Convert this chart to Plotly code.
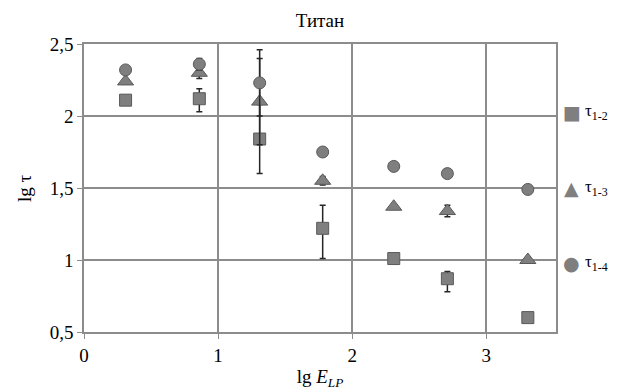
import plotly.graph_objects as go

x_vals = [0.31, 0.86, 1.31, 1.78, 2.31, 2.71, 3.31]

tau12 = [2.11, 2.12, 1.84, 1.22, 1.01, 0.87, 0.60]
tau12_err_plus = [0, 0.07, 0.24, 0.16, 0, 0.05, 0]
tau12_err_minus = [0, 0.09, 0.24, 0.21, 0, 0.09, 0]

tau13 = [2.24, 2.30, 2.10, 1.55, 1.37, 1.34, 1.00]
tau13_err = [0, 0.04, 0.30, 0.03, 0, 0.04, 0]

tau14 = [2.32, 2.36, 2.23, 1.75, 1.65, 1.60, 1.49]
tau14_err = [0, 0.04, 0.23, 0, 0, 0, 0]

series_names = ["τ<sub>1-2</sub>", "τ<sub>1-3</sub>", "τ<sub>1-4</sub>"]
legend_glyphs = ["■", "▲", "●"]

y_ticks = [0.5, 1, 1.5, 2, 2.5]
y_ticktext = ["0,5", "1", "1,5", "2", "2,5"]
x_ticks = [0, 1, 2, 3]
x_ticktext = ["0", "1", "2", "3"]

FILL = "#7f7f7f"
EDGE = "#595959"
GRID = "#8c8c8c"
FONT = "Liberation Serif, Times New Roman, serif"
FS = 19

fig = go.Figure()

def add(name, y, ep, em, symbol, size):
    fig.add_trace(go.Scatter(
        x=x_vals, y=y, mode="markers", name=name,
        marker=dict(symbol=symbol, size=size, color=FILL,
                    line=dict(color=EDGE, width=1)),
        error_y=dict(type="data", array=ep, arrayminus=em, symmetric=False,
                     color="#262626", thickness=1.5, width=3),
    ))

add(series_names[0], tau12, tau12_err_plus, tau12_err_minus, "square", 12)
add(series_names[1], tau13, tau13_err, tau13_err, "triangle-up", 14)
add(series_names[2], tau14, tau14_err, tau14_err, "circle", 12)

# legend drawn as annotations beside the plot area
legend_y = [0.764, 0.50, 0.2396]
annotations = []
for name, glyph, ly in zip(series_names, legend_glyphs, legend_y):
    annotations.append(dict(xref="paper", yref="paper", x=1.033, y=ly,
                            text=glyph, showarrow=False, xanchor="center",
                            yanchor="middle",
                            font=dict(family="DejaVu Sans", size=19, color=FILL)))
    annotations.append(dict(xref="paper", yref="paper", x=1.058, y=ly,
                            text=name, showarrow=False, xanchor="left",
                            yanchor="middle",
                            font=dict(family=FONT, size=17, color="black")))

# y-axis title
annotations.append(dict(xref="paper", yref="paper", x=-0.127, y=0.5,
                        text="lg τ", showarrow=False, textangle=-90,
                        xanchor="center", yanchor="middle",
                        font=dict(family=FONT, size=FS, color="black")))

fig.update_layout(
    width=617, height=390,
    margin=dict(l=76, r=69, t=36, b=66),
    paper_bgcolor="white", plot_bgcolor="white",
    font=dict(family=FONT, size=FS, color="black"),
    title=dict(text="Титан", x=0.5, xanchor="center", y=0.969, yanchor="middle",
               xref="paper", font=dict(family=FONT, size=FS)),
    showlegend=False,
    annotations=annotations,
    xaxis=dict(range=[0, 3.52], tickvals=x_ticks, ticktext=x_ticktext,
               showgrid=True, gridcolor=GRID, gridwidth=1.5,
               showline=True, linecolor=GRID, linewidth=1.5, mirror=True,
               ticks="outside", ticklen=5, tickcolor=GRID, zeroline=False,
               automargin=False,
               tickfont=dict(family=FONT, size=FS),
               title=dict(text="lg <i>E<sub>LP</sub></i>", standoff=5,
                          font=dict(family=FONT, size=FS))),
    yaxis=dict(range=[0.5, 2.5], tickvals=y_ticks, ticktext=y_ticktext,
               showgrid=True, gridcolor=GRID, gridwidth=1.5,
               showline=True, linecolor=GRID, linewidth=1.5, mirror=True,
               ticks="outside", ticklen=5, tickcolor=GRID, zeroline=False,
               automargin=False,
               tickfont=dict(family=FONT, size=FS)),
)

fig.write_html("out.html")
